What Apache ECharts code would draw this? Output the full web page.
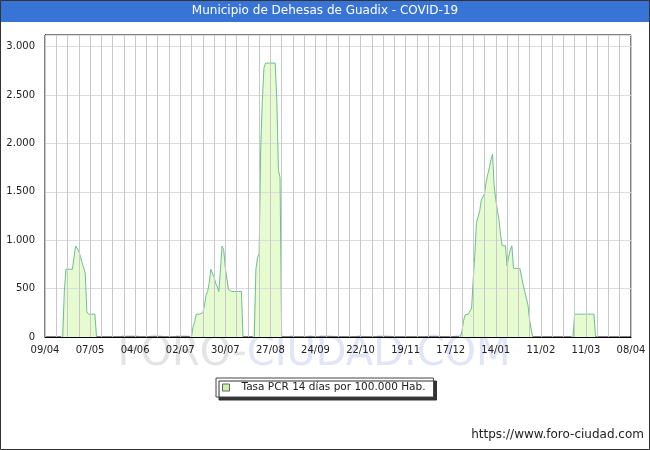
<!DOCTYPE html>
<html><head><meta charset="utf-8">
<script src="https://cdn.jsdelivr.net/npm/echarts@6/dist/echarts.min.js"></script>
<style>html,body{margin:0;padding:0;background:#fff}#c{width:650px;height:450px}</style>
</head><body><div id="c"></div>
<script>
// ---- data ----
const startYear = 2020, startMonth = 4, startDay = 9; // 09/04/2020
const dayCount = 365;
const tickLabels = ['09/04','07/05','04/06','02/07','30/07','27/08','24/09','22/10','19/11','17/12','14/01','11/02','11/03','08/04'];
const seriesName = 'Tasa PCR 14 días por 100.000 Hab.';

// daily values (day index from 09/04/2020), all other days are 0
const wave1Start = 11;
const wave1 = [0,470,700,700,700,700,700,700,940,940,890,830,770,720,660,260,236,236,236,236,236,0];
const wave2Start = 91;
const wave2 = [0,110,160,236,236,236,236,250,320,430,470,560,700,700,620,556,520,470,480,940,900,720,600,490,470,470,470,470,470,470,470,470,0];
const wave3Start = 130;
const wave3 = [0,700,820,860,1950,2450,2780,2830,2830,2830,2830,2830,2830,2830,2450,1720,1650,0];
const wave4Start = 258;
const wave4 = [0,60,170,230,236,236,236,300,600,850,1180,1180,1300,1415,1415,1480,1600,1680,1750,1830,1890,1560,1420,1310,1210,1050,943,943,943,735,830,900,943,711,708,708,708,708,708,540,472,472,330,180,80,0];
const wave5Start = 328;
const wave5 = [0,236,236,236,236,236,236,236,236,236,236,236,236,236,0];

// ---- build category + value arrays ----
const days = [];
for (let i = 0; i < dayCount; i++) {
  const d = new Date(Date.UTC(startYear, startMonth - 1, startDay + i));
  days.push(d.toISOString().slice(0, 10));
}
const rate = new Array(dayCount).fill(0);
[[wave1Start, wave1], [wave2Start, wave2], [wave3Start, wave3], [wave4Start, wave4], [wave5Start, wave5]]
  .forEach(([s, arr]) => arr.forEach((v, i) => { rate[s + i] = v; }));
// outline is only drawn where the rate leaves the zero baseline
const outline = rate.map((v, i) => (v > 0 || rate[i - 1] > 0 || rate[i + 1] > 0) ? v : null);

const fam = 'DejaVu Sans';
const fmt = v => String(v).replace(/\B(?=(\d{3})+(?!\d))/g, '.');

const chart = echarts.init(document.getElementById('c'), null, {renderer: 'canvas'});
chart.setOption({
  animation: false,
  textStyle: {fontFamily: fam},
  title: [
    {text: 'Municipio de Dehesas de Guadix - COVID-19', left: 'center', top: 5, padding: 0,
     textStyle: {color: '#ffffff', fontSize: 12, fontWeight: 'normal', fontFamily: fam}},
    {text: 'https://www.foro-ciudad.com', right: 6, top: 429, padding: 0,
     textStyle: {color: '#222', fontSize: 12, fontWeight: 'normal', fontFamily: fam}}
  ],
  graphic: [
    {type: 'rect', z: -10, shape: {x: 0, y: 0, width: 650, height: 22}, style: {fill: '#3873d6'}},
    {type: 'text', z: -5, x: 314, y: 355,
     style: {text: '{a|FORO-}{b|CIUDAD.COM}', align: 'center', verticalAlign: 'middle',
       rich: {a: {fill: '#e4e4e4', font: '40px "DejaVu Sans"'}, b: {fill: '#e2e5f7', font: '40px "DejaVu Sans"'}}}},
    {type: 'rect', z: 100, shape: {x: 0.5, y: 0.5, width: 649, height: 449}, style: {fill: null, stroke: '#333', lineWidth: 1}}
  ],
  grid: {left: 45, right: 19, top: 35, bottom: 113, show: true, borderColor: '#000', borderWidth: 1},
  legend: {
    left: 216, top: 378, padding: [4, 8, 4, 6], itemWidth: 7, itemHeight: 7,
    backgroundColor: '#fff', borderColor: '#444', borderWidth: 1,
    shadowColor: '#333', shadowOffsetX: 3, shadowOffsetY: 3, shadowBlur: 0,
    textStyle: {fontSize: 10.5, color: '#222', fontFamily: fam, padding: [0, 0, 0, 7]},
    data: [{name: seriesName, icon: 'rect', itemStyle: {color: '#ccf0a8', borderColor: '#666', borderWidth: 1}}]
  },
  xAxis: {
    type: 'category', data: days, boundaryGap: false, z: 4,
    axisLine: {lineStyle: {color: '#000', width: 1}},
    axisTick: {show: false},
    axisLabel: {interval: 27, formatter: (v, i) => tickLabels[Math.round(i / 28)], color: '#222', fontSize: 10, margin: 8, fontFamily: fam},
    splitLine: {show: true, interval: 6, lineStyle: {color: '#c8c8c8', width: 1}}
  },
  yAxis: {
    type: 'value', min: 0, max: 3120, interval: 500, z: 2,
    axisLine: {show: true, lineStyle: {color: '#000', width: 1}},
    axisTick: {show: false},
    axisLabel: {showMaxLabel: false, formatter: v => fmt(v), color: '#222', fontSize: 10, margin: 10, fontFamily: fam},
    splitLine: {show: true, lineStyle: {color: '#dcdcdc', width: 1}}
  },
  series: [
    {type: 'line', name: seriesName, data: rate, showSymbol: false, silent: true, z: 1,
     lineStyle: {width: 0}, areaStyle: {color: '#e6fbd0', opacity: 1}},
    {type: 'line', name: seriesName, data: outline, showSymbol: false, connectNulls: false, z: 3,
     lineStyle: {color: '#6cbf94', width: 1}, itemStyle: {color: '#6cbf94'}}
  ]
});
</script></body></html>
